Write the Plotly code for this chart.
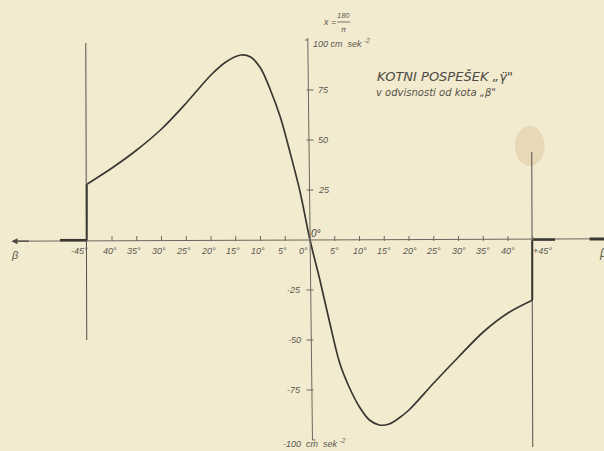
import plotly.graph_objects as go

# ---- data (beta in degrees, angular acceleration) ----
beta_left = [-45, -40, -35, -30, -25, -20, -17, -14, -12, -10, -8, -6, -4, -2, 0]
gamma_left = [28, 36, 45, 55.5, 68.5, 82.5, 89, 92.5, 91.5, 86, 75, 61.5, 43.5, 24, 0]
beta_right = [0, 2, 4, 6, 8, 10, 12, 14, 16, 18, 20, 25, 30, 35, 40, 45]
gamma_right = [0, -20, -41.5, -61.5, -74, -83.5, -90, -92.5, -92, -89, -85, -71.5, -58.5, -46, -36.5, -30]

x_tick_vals = [-45, -40, -35, -30, -25, -20, -15, -10, -5, 0, 5, 10, 15, 20, 25, 30, 35, 40, 45]
x_tick_text = ["-45°", "40°", "35°", "30°", "25°", "20°", "15°", "10°", "5°", "0°",
               "5°", "10°", "15°", "20°", "25°", "30°", "35°", "40°", "+45°"]
y_tick_vals = [75, 50, 25, -25, -50, -75]
y_tick_text = ["75", "50", "25", "-25", "-50", "-75"]

title_1 = "KOTNI POSPEŠEK „γ̈\""
title_2 = "v odvisnosti od kota „β\""

INK = "#3a3733"
TXT = "#5b5750"
BG = "#f3ebcf"
FONT = "Liberation Sans"

beta = beta_left + beta_right[1:]
gamma = gamma_left + gamma_right[1:]

fig = go.Figure()

shapes = []
# coffee stain
shapes.append(dict(type="circle", xref="x", yref="y", x0=41.4, x1=47.4, y0=37, y1=57,
                   fillcolor="rgba(212,188,145,0.4)", line=dict(width=0), layer="below"))
# horizontal axis
shapes.append(dict(type="line", xref="x", yref="y", x0=-60.0, y0=-0.6, x1=59.5, y1=0.6,
                   line=dict(color="#6b665e", width=1)))
# thick parts of the horizontal axis
shapes.append(dict(type="line", xref="x", yref="y", x0=-50.5, y0=-0.1, x1=-45, y1=-0.1,
                   line=dict(color=INK, width=2.5)))
shapes.append(dict(type="line", xref="x", yref="y", x0=45, y0=0.2, x1=49.5, y1=0.2,
                   line=dict(color=INK, width=2.5)))
shapes.append(dict(type="line", xref="x", yref="y", x0=56.5, y0=0.5, x1=60, y1=0.5,
                   line=dict(color=INK, width=3)))
# vertical axis (slightly tilted, as drawn)
shapes.append(dict(type="line", xref="x", yref="y", x0=-0.45, y0=101, x1=0.5, y1=-100,
                   line=dict(color="#6b665e", width=1)))
shapes.append(dict(type="line", xref="x", yref="y", x0=-0.45, y0=100, x1=-1.0, y1=100,
                   line=dict(color="#6b665e", width=1)))
shapes.append(dict(type="line", xref="x", yref="y", x0=0.5, y0=-100, x1=1.1, y1=-100,
                   line=dict(color="#6b665e", width=1)))
# boundary lines at +-45
shapes.append(dict(type="line", xref="x", yref="y", x0=-45.3, y0=98.5, x1=-45.1, y1=-50,
                   line=dict(color="#55514b", width=1)))
shapes.append(dict(type="line", xref="x", yref="y", x0=-45.1, y0=gamma_left[0], x1=-45.1, y1=0,
                   line=dict(color=INK, width=2)))
shapes.append(dict(type="line", xref="x", yref="y", x0=44.8, y0=44, x1=45.0, y1=-103.5,
                   line=dict(color="#55514b", width=1)))
shapes.append(dict(type="line", xref="x", yref="y", x0=44.9, y0=0, x1=44.9, y1=gamma_right[-1],
                   line=dict(color=INK, width=2)))
# x ticks
for v in x_tick_vals:
    shapes.append(dict(type="line", xref="x", yref="y", x0=v, y0=-0.5, x1=v, y1=2.0,
                       line=dict(color="#6b665e", width=1)))
# y ticks
for v in y_tick_vals:
    shapes.append(dict(type="line", xref="x", yref="y", x0=-0.7, y0=v, x1=0.7, y1=v,
                       line=dict(color="#6b665e", width=1)))

fig.add_trace(go.Scatter(x=beta, y=gamma, mode="lines",
                         line=dict(color=INK, width=1.7, shape="spline", smoothing=0.9),
                         hoverinfo="skip", showlegend=False))

ann = []
def txt(x, y, s, size=9, xanchor="center", color=TXT, family=FONT):
    ann.append(dict(x=x, y=y, xref="x", yref="y", text=s, showarrow=False,
                    xanchor=xanchor, yanchor="middle",
                    font=dict(family=family, size=size, color=color)))

# x tick labels
for v, t in zip(x_tick_vals, x_tick_text):
    if v == -45:
        txt(v - 1.6, -5.5, "<i>" + t + "</i>")
    elif v == 45:
        txt(v + 2.0, -5.5, "<i>" + t + "</i>")
    elif v == 0:
        txt(v - 1.3, -5.5, "<i>" + t + "</i>")
    else:
        txt(v - 0.5 if v < 0 else v, -5.5, "<i>" + t + "</i>")
txt(1.2, 3.5, "<i>0°</i>", size=10, color="#3f3c37")
# y tick labels
for v, t in zip(y_tick_vals, y_tick_text):
    if v > 0:
        txt(1.3, v, "<i>" + t + "</i>", xanchor="left")
    else:
        txt(-1.4, v, "<i>" + t + "</i>", xanchor="right")
txt(0.3, 98.5, "<i>100 cm  sek <sup>-2</sup></i>", xanchor="left")
txt(1.0, -101.5, "<i>-100  cm  sek <sup>-2</sup></i>")
# axis letters
txt(-59.6, -7.5, "<i>β</i>", size=11)
txt(59.2, -6.5, "<i>β</i>", size=12)
# constant above the vertical axis
txt(4.0, 109, "<i>x =</i>", size=9)
txt(6.8, 112.5, "<i>180</i>", size=7.5)
txt(6.8, 105.5, "<i>π</i>", size=7.5)
shapes.append(dict(type="line", xref="x", yref="y", x0=5.5, y0=109, x1=8.1, y1=109,
                   line=dict(color=TXT, width=0.8)))
# title
txt(27.3, 82, "<i>" + title_1 + "</i>", size=13, color="#4d4a44", family="DejaVu Sans")
txt(25.5, 74, "<i>" + title_2 + "</i>", size=10, color="#55514b", family="DejaVu Sans")

fig.add_annotation(x=-60.3, y=-0.6, ax=-56.5, ay=-0.6, xref="x", yref="y", axref="x", ayref="y",
                   text="", showarrow=True, arrowhead=2, arrowsize=1, arrowwidth=1.2,
                   arrowcolor="#4a4640")

fig.update_layout(
    width=604, height=451, autosize=False,
    margin=dict(l=0, r=0, t=0, b=0),
    paper_bgcolor=BG, plot_bgcolor=BG,
    xaxis=dict(range=[-310 / 4.95, 294 / 4.95], visible=False, fixedrange=True),
    yaxis=dict(range=[-105.5, 120], visible=False, fixedrange=True),
    shapes=shapes,
    annotations=list(fig.layout.annotations) + ann,
    showlegend=False,
)

fig.write_html("out.html", config={"displayModeBar": False},
               post_script="document.body.style.margin='0';document.body.style.background='" + BG + "';")
